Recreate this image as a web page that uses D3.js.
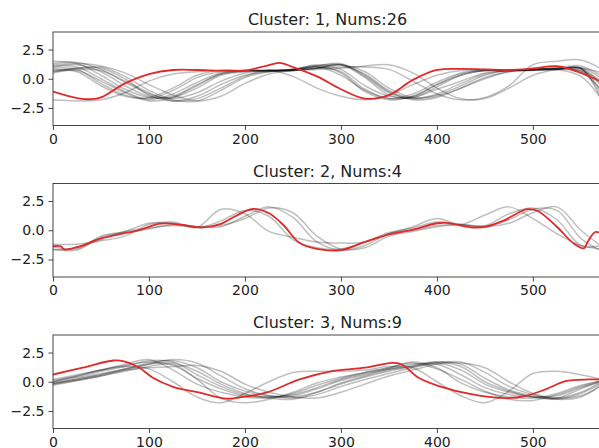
<!DOCTYPE html>
<html>
<head>
<meta charset="utf-8">
<script src="https://cdn.jsdelivr.net/npm/d3@7"></script>
<style>
  body { margin: 0; background: #fff; }
  text { font-family: "DejaVu Sans", sans-serif; fill: #222; }
</style>
</head>
<body>
<svg id="chart" width="599" height="448"></svg>
<script>
// sample positions shared by the gray member lines
var xs = [0, 25, 50, 75, 100, 125, 150, 175, 200, 225, 250, 275, 300, 325, 350, 375, 400, 425, 450, 475, 500, 525, 550, 572];

var titles = ["Cluster: 1, Nums:26", "Cluster: 2, Nums:4", "Cluster: 3, Nums:9"];
var xTicks = [0, 100, 200, 300, 400, 500];
var yTicks = [-2.5, 0, 2.5];

// cluster 1 members
var cluster1 = [
  [1.5, 1.3, 0.3, -0.9, -1.6, -1.5, -0.5, 0.4, 0.65, 0.7, 0.75, 1.1, 1.2, 0.1, -1.4, -1.6, -0.9, -0.2, 0.5, 0.7, 0.75, 0.8, 0.85, -1.5],
  [1.3, 1.4, 0.8, -0.3, -1.3, -1.7, -1.2, -0.2, 0.5, 0.65, 0.7, 0.9, 1.2, 0.6, -0.8, -1.6, -1.4, -0.6, 0.3, 0.7, 0.75, 0.8, 0.9, -0.5],
  [0.9, 0.8, -0.4, -1.4, -1.7, -1.0, 0.1, 0.6, 0.7, 0.7, 0.7, 1.0, 0.6, -0.9, -1.7, -1.3, -0.3, 0.5, 0.75, 0.75, 0.8, 0.85, 0.7, -0.2],
  [0.6, 0.7, -0.2, -1.2, -1.9, -1.6, -0.6, 0.4, 0.7, 0.7, 0.8, 1.1, 0.5, -1.1, -1.8, -1.5, -0.5, 0.4, 0.7, 0.7, 0.8, 0.9, 0.9, -1.2],
  [0.7, 0.9, 1.0, 0.2, -1.0, -1.8, -1.9, -1.0, 0.1, 0.6, 0.8, 0.9, 1.0, 1.0, 0.8, -0.2, -1.3, -1.8, -1.6, -0.6, 1.2, 1.5, 1.6, 0.8],
  [-1.8, -1.9, -1.8, -1.2, -0.2, 0.4, 0.6, 0.7, 0.7, 0.7, 0.8, 1.0, 0.3, -1.0, -1.7, -1.5, -0.5, 0.3, 0.7, 0.7, 0.75, 0.8, 0.2, -1.8],
  [0.6, 0.9, 0.9, 0.0, -1.4, -1.9, -1.5, -0.5, 0.3, 0.6, 0.7, 0.9, 1.2, 0.3, -1.1, -1.8, -1.6, -0.8, 0.1, 0.6, 0.8, 0.9, 1.1, 0.2],
  [1.1, 1.0, 0.0, -1.1, -1.8, -1.3, -0.3, 0.5, 0.7, 0.7, 0.8, 1.1, 1.3, 0.2, -1.2, -1.7, -1.3, -0.4, 0.4, 0.7, 0.75, 0.85, 0.95, 0.0],
  [1.2, 1.3, 1.1, 0.5, -0.5, -1.4, -1.9, -1.5, -0.4, 0.4, 0.7, 0.8, 0.9, 1.1, 1.2, 0.5, -0.8, -1.7, -1.7, -0.8, 0.3, 0.8, 0.9, 0.5],
  [0.5, 0.8, 0.7, -0.2, -1.2, -1.9, -1.7, -0.8, 0.2, 0.7, 0.2, -0.8, -1.5, -1.8, -1.4, -0.5, 0.3, 0.7, 0.7, 0.7, 0.8, 0.9, 0.7, -0.6],
  [1.0, 1.2, 0.6, -0.6, -1.5, -1.6, -0.8, 0.3, 0.6, 0.7, 0.75, 0.9, 1.2, 0.4, -1.0, -1.7, -1.5, -0.8, 0.0, 0.6, 0.7, 0.8, 0.9, -1.9],
  [0.8, 0.6, -0.6, -1.5, -1.6, -0.8, 0.3, 0.7, 0.7, 0.7, 0.8, 1.2, 0.8, -0.6, -1.5, -1.6, -0.7, 0.3, 0.7, 0.7, 0.8, 0.9, 0.6, -1.0]
];
var mean1X = [0, 25, 40, 50, 75, 100, 125, 150, 175, 200, 222, 236, 250, 275, 300, 325, 350, 375, 400, 425, 450, 475, 500, 525, 550, 572];
var mean1 = [-1.1, -1.65, -1.75, -1.6, -0.4, 0.4, 0.75, 0.75, 0.7, 0.7, 1.1, 1.35, 1.0, 0.2, -0.9, -1.7, -1.4, -0.1, 0.75, 0.85, 0.8, 0.75, 0.88, 1.07, 0.5, -0.3];

// cluster 2 members
var cluster2 = [
  [-1.2, -1.2, -0.9, -0.5, 0.5, 0.7, 0.25, 1.8, 1.4, -0.1, -0.6, -1.0, -1.1, -1.0, -0.3, 0.3, 1.0, 0.5, 1.3, 2.0, 1.0, -0.3, -1.3, -1.6],
  [-1.6, -1.7, -0.6, -0.2, 0.1, 0.5, 0.3, 0.3, 1.2, 2.0, 1.1, -1.0, -1.7, -1.3, -0.3, 0.0, 0.4, 0.45, 0.25, 0.9, 1.8, 1.7, -0.7, -1.8],
  [-1.7, -1.5, -0.8, -0.1, 0.2, 0.4, 0.3, 0.4, 1.0, 1.9, 1.5, -0.5, -1.6, -1.5, -0.5, -0.1, 0.3, 0.5, 0.3, 0.6, 1.5, 2.0, 0.0, -1.4],
  [-1.4, -1.6, -0.5, -0.1, 0.6, 0.6, 0.2, 0.8, 1.7, 1.2, -0.8, -1.5, -1.6, -1.0, -0.2, 0.2, 0.7, 0.5, 0.4, 1.4, 1.9, 0.9, -1.3, -1.3]
];
var mean2X = [0, 8, 12, 25, 50, 75, 90, 110, 125, 140, 155, 175, 190, 208, 225, 240, 257, 275, 300, 325, 350, 375, 400, 410, 435, 450, 470, 494, 505, 525, 542, 553, 557, 565, 572];
var mean2 = [-1.37, -1.37, -1.65, -1.45, -0.7, -0.25, 0.0, 0.55, 0.55, 0.4, 0.23, 0.55, 1.2, 1.82, 1.45, 0.45, -1.1, -1.6, -1.7, -1.0, -0.35, 0.05, 0.6, 0.63, 0.25, 0.3, 0.85, 1.8, 1.65, 0.3, -1.1, -1.55, -1.0, -0.15, -0.3];

// cluster 3 members
var cluster3 = [
  [0.0, 0.4, 0.9, 1.3, 1.8, 1.7, 0.6, -0.4, -1.1, -1.3, -1.2, -0.6, 0.1, 0.6, 1.1, 1.3, 1.6, 1.0, -0.2, -0.9, -1.3, -1.4, -0.6, 0.1],
  [-0.2, 0.2, 0.6, 1.1, 1.6, 1.8, 1.2, 0.0, -0.8, -1.2, -1.3, -0.9, -0.2, 0.4, 0.9, 1.3, 1.7, 1.5, 0.3, -0.7, -1.2, -1.4, -0.9, 0.0],
  [0.1, 0.5, 1.0, 1.5, 1.9, 1.0, -0.2, -0.9, -1.3, -1.4, -1.0, -0.3, 0.3, 0.8, 1.2, 1.7, 1.2, -0.1, -0.9, -1.3, -1.4, -1.0, -0.3, 0.1],
  [-0.3, 0.1, 0.5, 1.0, 1.5, 1.9, 1.6, 0.5, -0.6, -1.2, -1.4, -1.1, -0.4, 0.2, 0.7, 1.2, 1.6, 1.7, 0.8, -0.4, -1.1, -1.5, -1.3, -0.2],
  [-0.1, 0.2, 0.6, 1.0, 1.2, 1.3, 1.4, 0.9, -0.2, -0.9, -1.3, -1.4, -0.9, -0.2, 0.5, 1.0, 1.5, 1.6, 1.2, 0.0, -1.0, -1.4, -1.2, -0.3],
  [0.0, 0.5, 1.0, 1.3, 1.1, 0.0, -1.3, -1.8, -1.0, 0.0, 0.8, 0.9, 0.9, 1.0, 1.3, 1.2, 0.0, -1.2, -1.8, -0.8, 0.7, 0.9, 0.6, 0.2],
  [0.2, 0.6, 1.0, 1.4, 1.7, 1.4, 0.3, -0.6, -1.2, -1.3, -1.1, -0.5, 0.2, 0.7, 1.1, 1.5, 1.5, 0.6, -0.5, -1.1, -1.3, -1.2, -0.5, 0.0],
  [-0.1, 0.3, 0.7, 1.1, 1.5, 1.6, 0.9, -0.2, -1.0, -1.4, -1.5, -0.9, -0.1, 0.5, 1.0, 1.4, 1.7, 1.3, 0.0, -0.8, -1.3, -1.5, -1.0, -0.1],
  [-0.2, 0.1, 0.5, 0.9, 1.3, 1.5, 0.2, -1.4, -1.8, -1.5, -0.9, -0.1, 0.4, 0.8, 1.2, 1.6, 1.1, 0.2, -0.8, -1.5, -1.6, -1.1, -0.4, 0.1]
];
var mean3X = [0, 31, 63, 76, 90, 104, 125, 153, 181, 198, 222, 257, 291, 325, 353, 363, 381, 402, 437, 472, 493, 513, 534, 558, 572];
var mean3 = [0.62, 1.2, 1.82, 1.7, 1.2, 0.34, -0.43, -0.94, -1.45, -1.3, -0.94, 0.2, 0.9, 1.2, 1.62, 1.5, 0.34, -0.37, -1.08, -1.4, -1.2, -0.66, 0.05, 0.2, 0.2];

var svg = d3.select("#chart");
var left = 53, right = 602;
var panels = [
  { top: 32, bottom: 125.5, members: cluster1, meanX: mean1X, mean: mean1 },
  { top: 183.5, bottom: 277, members: cluster2, meanX: mean2X, mean: mean2 },
  { top: 335, bottom: 428.5, members: cluster3, meanX: mean3X, mean: mean3 }
];

var x = d3.scaleLinear().domain([0, 572]).range([left, right]);

panels.forEach(function (p, i) {
  var y = d3.scaleLinear().domain([-4, 4]).range([p.bottom, p.top]);
  var g = svg.append("g");

  g.append("clipPath").attr("id", "clip" + i)
    .append("rect")
    .attr("x", left).attr("y", p.top)
    .attr("width", right - left).attr("height", p.bottom - p.top);

  var line = d3.line()
    .x(function (d) { return x(d[0]); })
    .y(function (d) { return y(d[1]); })
    .curve(d3.curveCatmullRom.alpha(0.5));

  var plot = g.append("g").attr("clip-path", "url(#clip" + i + ")");

  plot.selectAll("path.member")
    .data(p.members)
    .enter()
      .append("path")
      .attr("class", "member")
      .attr("fill", "none")
      .attr("stroke", "#000")
      .attr("stroke-opacity", 0.25)
      .attr("stroke-width", 1.5)
      .attr("d", function (vals) {
        return line(vals.map(function (v, k) { return [xs[k], v]; }));
      });

  plot.append("path")
    .attr("fill", "none")
    .attr("stroke", "#e02a2a")
    .attr("stroke-width", 1.8)
    .attr("d", line(p.mean.map(function (v, k) { return [p.meanX[k], v]; })));

  // axes
  var yAxis = d3.axisLeft(y).tickValues(yTicks).tickFormat(d3.format(".1f"))
    .tickSize(4.5).tickPadding(4);
  var xAxis = d3.axisBottom(x).tickValues(xTicks).tickSize(4.5).tickPadding(4);

  var ya = g.append("g").attr("transform", "translate(" + left + ",0)").call(yAxis);
  var xa = g.append("g").attr("transform", "translate(0," + p.bottom + ")").call(xAxis);
  [ya, xa].forEach(function (a) {
    a.select(".domain").remove();
    a.selectAll("line").attr("stroke", "#333").attr("stroke-width", 0.9);
    a.selectAll("text").style("font-size", "14px").attr("fill", "#222");
  });

  // frame
  g.append("rect")
    .attr("x", left).attr("y", p.top)
    .attr("width", right - left).attr("height", p.bottom - p.top)
    .attr("fill", "none").attr("stroke", "#333").attr("stroke-width", 0.9);

  g.append("text")
    .attr("x", (left + right) / 2)
    .attr("y", p.top - 7)
    .attr("text-anchor", "middle")
    .style("font-size", "16px")
    .text(titles[i]);
});
</script>
</body>
</html>
